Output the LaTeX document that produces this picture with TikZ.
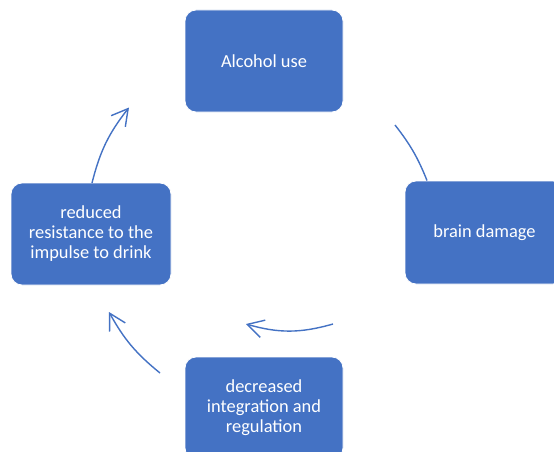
\documentclass[tikz,border=0pt]{standalone}
\usepackage{fontspec}
\setmainfont{Carlito}
\usetikzlibrary{arrows.meta}
\definecolor{boxblue}{RGB}{68,114,196}
\tikzset{
  cyclebox/.style={rectangle, rounded corners=11pt, fill=boxblue, draw=white, line width=0.8pt,
    text=white, align=center, inner sep=0pt,
    font=\fontsize{18.4}{20}\selectfont},
  cyclearrow/.style={draw=boxblue, line width=1.4pt,
    -{Straight Barb[length=16pt,width=18pt,line width=1.4pt]}},
  cycleline/.style={draw=boxblue, line width=1.4pt}
}
\begin{document}
\begin{tikzpicture}[x=1pt,y=1pt]
\useasboundingbox (0,0) rectangle (554,-452);
\clip (0,0) rectangle (554,-452);
\fill[white] (0,0) rectangle (554,-452);
\node[cyclebox, minimum width=158pt, minimum height=102pt] (A) at (264,-61) {Alcohol use};
\node[cyclebox, minimum width=159pt, minimum height=103pt] (B) at (484.5,-232.5) {brain damage};
\node[cyclebox, minimum width=158pt, minimum height=102pt] (D) at (264,-408) {decreased\\integration and\\regulation};
\node[cyclebox, minimum width=160pt, minimum height=102pt] (C) at (91,-234) {reduced\\resistance to the\\impulse to drink};
\coordinate (a1s) at (395,-125);
\coordinate (a1e) at (427,-180.5);
\coordinate (a2s) at (333,-324);
\coordinate (a2e) at (246,-324);
\coordinate (a3s) at (160,-373);
\coordinate (a3e) at (109,-312);
\coordinate (a4s) at (92,-183);
\coordinate (a4e) at (129,-107.5);
\draw[cycleline] (a1s) to[bend left=8] (a1e);
\draw[cyclearrow] (a2s) to[bend left=16] (a2e);
\draw[cyclearrow] (a3s) to[bend left=11] (a3e);
\draw[cyclearrow] (a4s) to[bend left=12] (a4e);
\end{tikzpicture}
\end{document}
